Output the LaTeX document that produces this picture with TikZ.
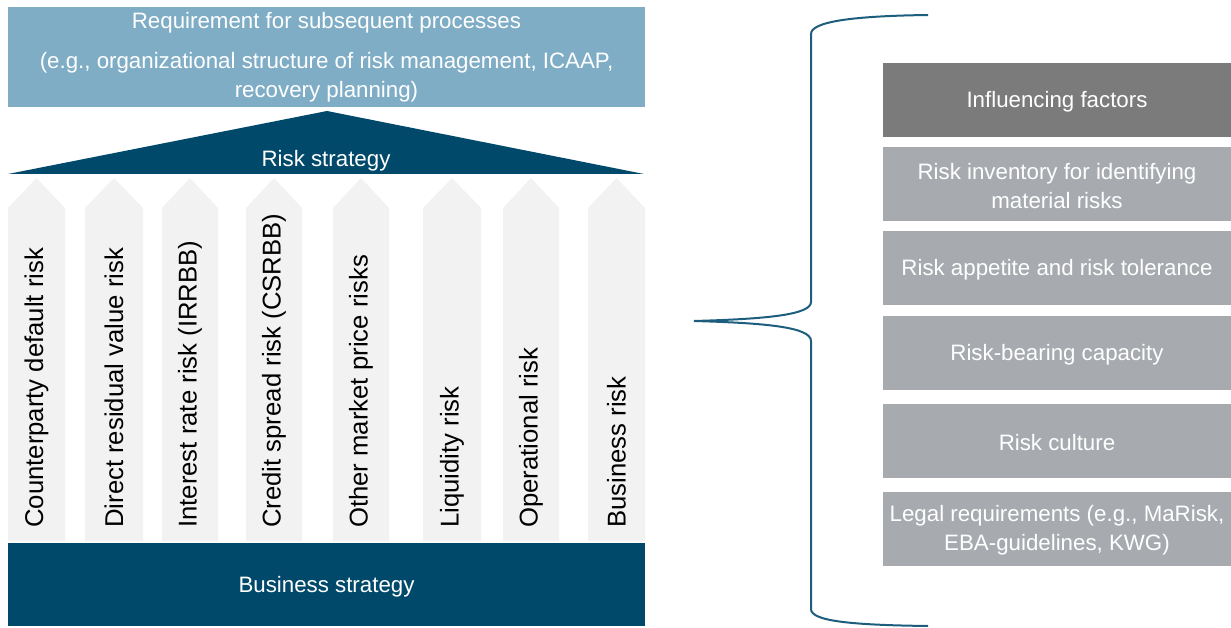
\documentclass[tikz,border=0pt]{standalone}
\usepackage{fontspec}
\setmainfont{Liberation Sans}

\definecolor{reqblue}{HTML}{7FADC6}
\definecolor{darkblue}{HTML}{00496A}
\definecolor{pillargray}{HTML}{F2F2F2}
\definecolor{headgray}{HTML}{7B7B7B}
\definecolor{factorgray}{HTML}{A7ABB0}
\definecolor{bracecolor}{HTML}{1D5E7E}

\tikzset{
    whitetext/.style={text=white, font=\fontsize{22.3}{29}\selectfont},
    widebox/.style={minimum width=637pt, inner sep=0pt, align=center, whitetext},
    factorbox/.style={fill=factorgray, minimum width=348pt, minimum height=74pt, inner sep=0pt, align=center, whitetext},
    pillartext/.style={rotate=90, anchor=west, inner sep=0pt, font=\fontsize{25.7}{30}\selectfont},
}

\begin{document}
\begin{tikzpicture}[x=1pt, y=-1pt]
    \useasboundingbox (0,0) rectangle (1231,628);

    % top requirement box
    \node [widebox, fill=reqblue, minimum height=100pt] (req) at (326.5,57)
        {Requirement for subsequent processes\\[11pt]
         (e.g., organizational structure of risk management, ICAAP,\\
         recovery planning)};

    % roof
    \fill [darkblue] (8,174) -- (327,111) -- (644,174) -- cycle;
    \node [whitetext] (riskstrat) at (326,161) {Risk strategy};

    % pillars
    \foreach \xl/\xr/\label [count=\i] in {8/65/Counterparty default risk,
            85/143/Direct residual value risk, 162/218/Interest rate risk (IRRBB),
            246/302/Credit spread risk (CSRBB), 333/389/Other market price risks,
            423/481/Liquidity risk, 503/559/Operational risk, 588/645/Business risk} {
        \fill [pillargray] (\xl,541) -- (\xl,208) -- ({(\xl+\xr)/2},178)
            -- (\xr,208) -- (\xr,541) -- cycle;
        \node [pillartext] (pillar\i) at ({(\xl+\xr)/2},528) {\label};
    }

    % foundation
    \fill [darkblue] (8,543) rectangle (645,626);
    \node [whitetext] (business) at (326.5,587) {Business strategy};

    % influencing factors
    \node [factorbox, fill=headgray] (factor1) at (1057,100) {};
    \node [whitetext] at (1057,102) {Influencing factors};
    \foreach \y/\label [count=\i from 2] in {184/Risk inventory for identifying\\material risks,
            268/Risk appetite and risk tolerance, 353/Risk-bearing capacity,
            440.5/Risk culture, 528.5/Legal requirements (e.g.{,} MaRisk{,}\\EBA-guidelines{,} KWG)} {
        \node [factorbox] (factor\i) at (1057,\y) {};
        \node [whitetext, align=center] at (1057,\y+2) {\label};
    }

    % brace
    \coordinate (bracetop) at (928,15);
    \coordinate (bracetip) at (694,321);
    \coordinate (bracebot) at (928,626);
    \draw [bracecolor, line width=2pt]
        (bracetop) .. controls (850,16) and (811,22) .. (811,34)
        -- (811,302) .. controls (811,315) and (765,319) .. (bracetip)
        .. controls (765,323) and (811,327) .. (811,341)
        -- (811,609) .. controls (811,621) and (850,625) .. (bracebot);
\end{tikzpicture}
\end{document}
